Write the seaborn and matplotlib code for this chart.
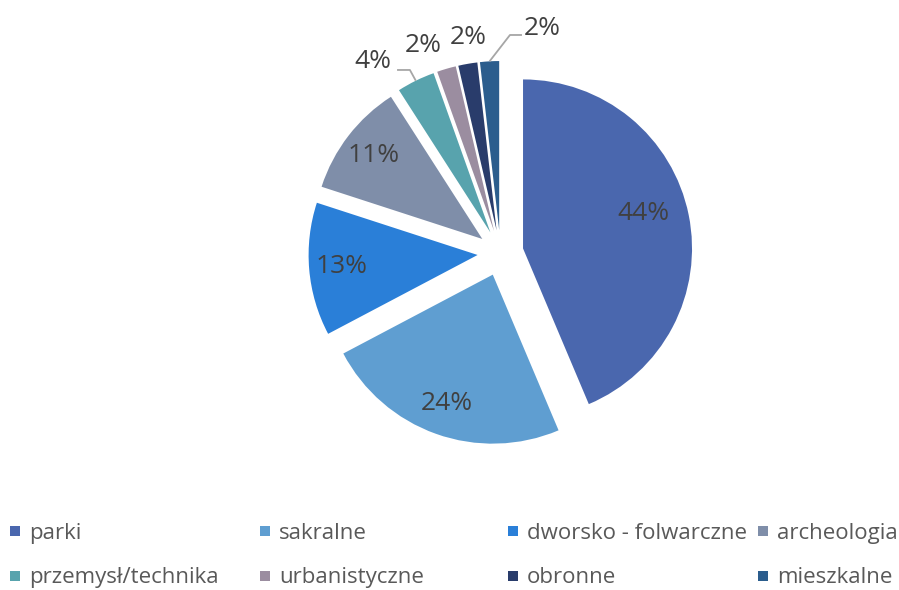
import numpy as np
import matplotlib
matplotlib.use("Agg")
import matplotlib.pyplot as plt
import seaborn as sns
from matplotlib.lines import Line2D

categories = ["parki", "sakralne", "dworsko - folwarczne", "archeologia",
              "przemysł/technika", "urbanistyczne", "obronne", "mieszkalne"]
counts = [24, 13, 7, 6, 2, 1, 1, 1]
colors = ["#4A67AE", "#5F9ED1", "#2A7FD8", "#7F8EA9",
          "#58A3AD", "#9B8DA0", "#293C6B", "#2B5D8D"]

sns.set_theme(style="white")
plt.rcParams["font.family"] = ["Open Sans", "DejaVu Sans"]

W, H = 899, 590
fig = plt.figure(figsize=(W / 100, H / 100), dpi=100)
R_PX = 169
CX, CY = 500.5, 253
LIM = 1.4
size = 2 * LIM * R_PX
ax = fig.add_axes([(CX - size / 2) / W, (H - CY - size / 2) / H, size / W, size / H])

wedges, _ = ax.pie(counts, colors=colors, startangle=90, counterclock=False,
                   explode=[0.136] * len(counts), radius=1.0,
                   wedgeprops=dict(linewidth=0))
ax.set_xlim(-LIM, LIM)
ax.set_ylim(-LIM, LIM)
ax.set_aspect("equal")
ax.axis("off")

total = sum(counts)
pcts = [f"{round(100 * c / total):d}%" for c in counts]
txt_color = "#404040"
fs_lab = 19

# inner labels (distance from wedge centre, angular offset in degrees)
inner_place = [(0.74, 5.0), (0.81, 0.0), (0.81, 0.0), (0.81, 0.0)]
for i in range(4):
    w = wedges[i]
    d, off = inner_place[i]
    mid = np.deg2rad((w.theta1 + w.theta2) / 2 + off)
    cx, cy = w.center
    ax.text(cx + d * np.cos(mid), cy + d * np.sin(mid), pcts[i],
            ha="center", va="center", fontsize=fs_lab, color=txt_color)

# outer labels (distance, angle) from pie center
outer_pos = {4: (1.36, 123.7), 5: (1.31, 110.4), 6: (1.29, 98.6), 7: (1.35, 79.5)}
for i, (d, a) in outer_pos.items():
    ar = np.deg2rad(a)
    ax.text(d * np.cos(ar), d * np.sin(ar), pcts[i], ha="center", va="center",
            fontsize=fs_lab, color=txt_color)

# leader lines
def edge_point(w):
    mid = np.deg2rad((w.theta1 + w.theta2) / 2)
    cx, cy = w.center
    return cx + np.cos(mid), cy + np.sin(mid)

lc = "#A6A6A6"
ex, ey = edge_point(wedges[4])
ax.plot([ex, -0.536, -0.612], [ey, 1.083, 1.083], color=lc, lw=1.3, solid_capstyle="butt")
ex, ey = edge_point(wedges[7])
ax.plot([ex, 0.056, 0.127], [ey, 1.29, 1.29], color=lc, lw=1.3, solid_capstyle="butt")

# legend: 4 columns x 2 rows
col_x = [9, 259, 507, 757]
leg_top = 523
for c in range(4):
    idx = [c, c + 4]
    handles = [Line2D([], [], marker="s", linestyle="", markersize=7.2,
                      markerfacecolor=colors[k], markeredgewidth=0) for k in idx]
    leg = fig.legend(handles, [categories[k] for k in idx], loc="upper left",
                     bbox_to_anchor=(col_x[c] / W, 1 - leg_top / H),
                     frameon=False, fontsize=16, labelcolor="#595959",
                     handlelength=0.5, handletextpad=0.4, labelspacing=1.05,
                     borderpad=0, borderaxespad=0)

fig.savefig("out.png", dpi=100, facecolor="white")
